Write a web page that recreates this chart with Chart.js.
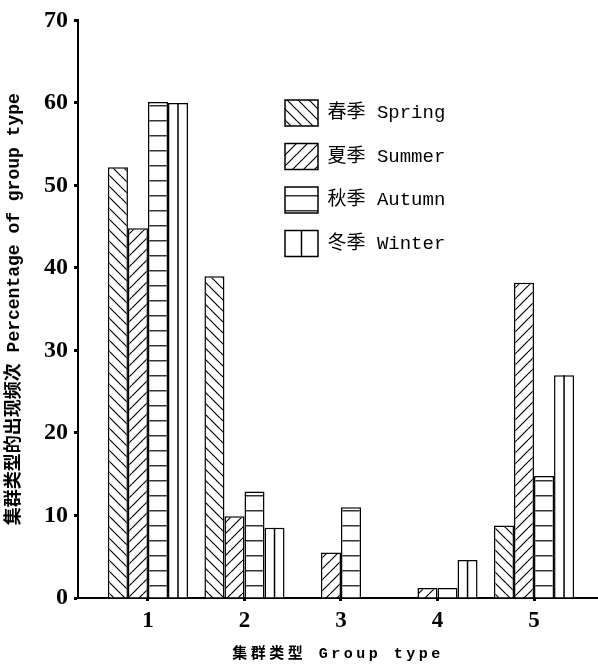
<!DOCTYPE html>
<html>
<head>
<meta charset="utf-8">
<script src="https://cdn.jsdelivr.net/npm/chart.js@4.4.1/dist/chart.umd.min.js"></script>
<style>
    html, body { margin: 0; padding: 0; background: #fff; }
    #wrap { width: 598px; height: 667px; position: relative; }
</style>
</head>
<body>
<div id="wrap"><canvas id="groupChart"></canvas></div>
<script>
// values (percent)
const groupTypes = [1, 2, 3, 4, 5];
const spring = [52.2, 39.0, 0, 0, 8.8];
const summer = [44.8, 9.9, 5.5, 1.2, 38.2];
const autumn = [60.1, 12.9, 11.0, 1.2, 14.8];
const winter = [60.0, 8.5, 0, 4.6, 27.0];
const seasonNames = ['春季 Spring', '夏季 Summer', '秋季 Autumn', '冬季 Winter'];
const yMax = 70;
const yStep = 10;

const mixFont = "'Liberation Mono', 'Noto Sans CJK SC', monospace";
const numFont = "'Liberation Serif', serif";

function hatch(kind) {
    const size = kind === 'h' ? 15 : 11;
    const c = document.createElement('canvas');
    c.width = size;
    c.height = size;
    const g = c.getContext('2d');
    g.fillStyle = '#fff';
    g.fillRect(0, 0, size, size);
    g.strokeStyle = '#000';
    g.lineWidth = 1.2;
    g.beginPath();
    if (kind === 'h') {
        g.moveTo(0, 0.8);
        g.lineTo(size, 0.8);
    } else {
        for (let k = -size; k <= size; k += size) {
            if (kind === 'back') {
                g.moveTo(k, 0);
                g.lineTo(k + size, size);
            } else {
                g.moveTo(k, size);
                g.lineTo(k + size, 0);
            }
        }
    }
    g.stroke();
    return g.createPattern(c, 'repeat');
}

// legend sits inside the plot; winter bars get one vertical line down the middle
const winterLines = {
    id: 'winterLines',
    afterLayout(chart) {
        const lg = chart.legend;
        const w = lg.width, h = lg.height;
        lg.left = 267.5;
        lg.top = 82.5;
        lg.right = lg.left + w;
        lg.bottom = lg.top + h;
    },
    afterDatasetsDraw(chart) {
        const ctx = chart.ctx;
        const meta = chart.getDatasetMeta(3);
        ctx.save();
        ctx.strokeStyle = '#000';
        ctx.lineWidth = 1.5;
        meta.data.forEach(bar => {
            if (bar.base - bar.y < 1) return;
            ctx.beginPath();
            ctx.moveTo(bar.x, bar.y);
            ctx.lineTo(bar.x, bar.base);
            ctx.stroke();
        });
        const hb = chart.legend.legendHitBoxes[3];
        const lab = chart.options.plugins.legend.labels;
        if (hb) {
            ctx.beginPath();
            ctx.moveTo(hb.left + lab.boxWidth / 2, hb.top);
            ctx.lineTo(hb.left + lab.boxWidth / 2, hb.top + lab.boxHeight);
            ctx.stroke();
        }
        ctx.restore();
    }
};

const ctx = document.getElementById('groupChart').getContext('2d');

const groupChart = new Chart(ctx, {
    type: 'bar',
    data: {
        labels: groupTypes,
        datasets: [
            { label: seasonNames[0], data: spring, backgroundColor: hatch('back') },
            { label: seasonNames[1], data: summer, backgroundColor: hatch('fwd') },
            { label: seasonNames[2], data: autumn, backgroundColor: hatch('h') },
            { label: seasonNames[3], data: winter, backgroundColor: '#fff' }
        ].map(ds => Object.assign(ds, {
            borderColor: '#000',
            borderWidth: 1.5,
            categoryPercentage: 0.83,
            barPercentage: 1
        }))
    },
    options: {
        responsive: true,
        maintainAspectRatio: false,
        animation: false,
        layout: { padding: { top: 14, left: 0, right: 0, bottom: 0 } },
        plugins: {
            tooltip: { enabled: false },
            legend: {
                position: 'chartArea',
                align: 'start',
                labels: {
                    boxWidth: 33,
                    boxHeight: 26,
                    padding: 17.5,
                    color: '#000',
                    font: { family: mixFont, size: 19 }
                }
            }
        },
        scales: {
            x: {
                type: 'linear',
                offset: false,
                min: 0.275,
                max: 5.663,
                afterBuildTicks: scale => {
                    scale.ticks = groupTypes.map(v => ({ value: v }));
                },
                afterFit: scale => { scale.height = 69; },
                ticks: {
                    color: '#000',
                    padding: 6,
                    autoSkip: false,
                    font: { family: numFont, size: 23, weight: 'bold' }
                },
                grid: { offset: false, drawOnChartArea: false, color: '#000', tickLength: 3, tickWidth: 3 },
                border: { color: '#000', width: 2 },
                title: {
                    display: true,
                    text: '集群类型 Group type',
                    color: '#000',
                    padding: { top: 0, bottom: 4 },
                    font: { family: mixFont, size: 15, weight: 'bold' }
                }
            },
            y: {
                min: 0,
                max: yMax,
                afterFit: scale => { scale.width = 78; },
                ticks: {
                    stepSize: yStep,
                    color: '#000',
                    padding: 6,
                    font: { family: numFont, size: 24, weight: 'bold' }
                },
                grid: { drawOnChartArea: false, color: '#000', tickLength: 4, tickWidth: 3 },
                border: { color: '#000', width: 2 },
                title: {
                    display: true,
                    text: '集群类型的出现频次 Percentage of group type',
                    color: '#000',
                    padding: { top: 4, bottom: 0 },
                    font: { family: mixFont, size: 18, weight: 'bold' }
                }
            }
        }
    },
    plugins: [winterLines]
});

// the x axis title is set with wide letter spacing in the figure
const xScale = groupChart.scales.x;
const drawXTitle = xScale.drawTitle;
xScale.drawTitle = function () {
    this.ctx.letterSpacing = '3.5px';
    drawXTitle.call(this);
    this.ctx.letterSpacing = '0px';
};
groupChart.draw();
</script>
</body>
</html>
